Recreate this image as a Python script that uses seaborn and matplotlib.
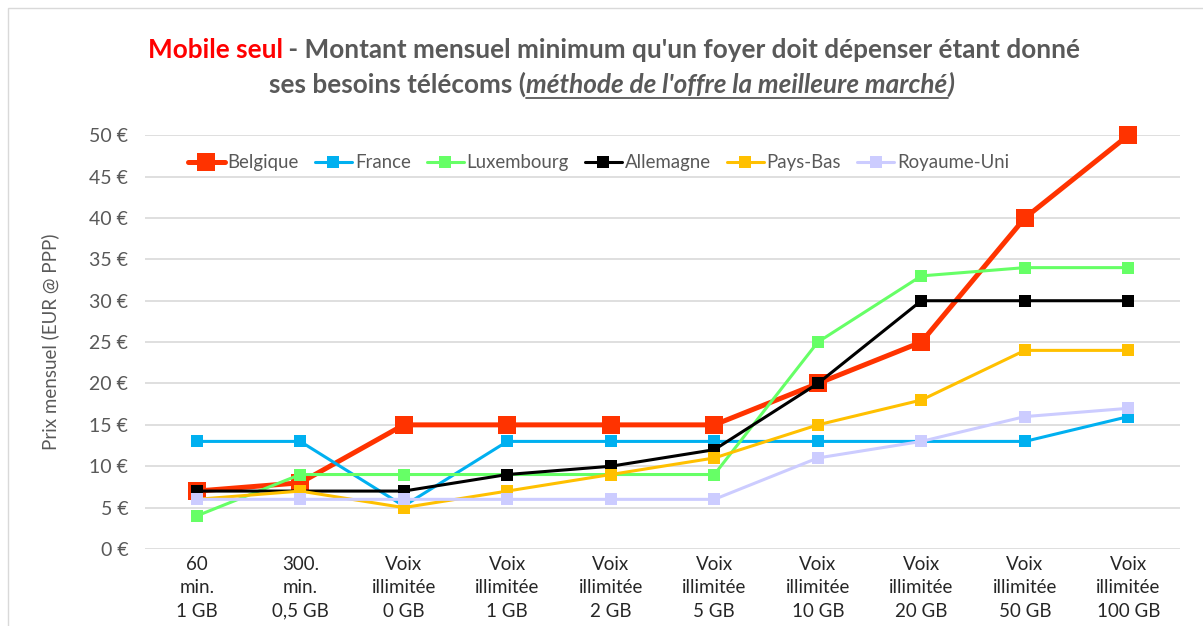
import numpy as np
import pandas as pd
import matplotlib
matplotlib.use("Agg")
import matplotlib.pyplot as plt
import seaborn as sns

# categories (x axis) and values
categories = ["60\nmin.\n1 GB", "300.\nmin.\n0,5 GB", "Voix\nillimitée\n0 GB",
              "Voix\nillimitée\n1 GB", "Voix\nillimitée\n2 GB", "Voix\nillimitée\n5 GB",
              "Voix\nillimitée\n10 GB", "Voix\nillimitée\n20 GB", "Voix\nillimitée\n50 GB",
              "Voix\nillimitée\n100 GB"]
belgique = [7, 8, 15, 15, 15, 15, 20, 25, 40, 50]
france = [13, 13, 5.2, 13, 13, 13, 13, 13, 13, 16]
luxembourg = [4, 9, 9, 9, 9, 9, 25, 33, 34, 34]
allemagne = [7, 7, 7, 9, 10, 12, 20, 30, 30, 30]
pays_bas = [6, 7, 5, 7, 9, 11, 15, 18, 24, 24]
royaume_uni = [6, 6, 6, 6, 6, 6, 11, 13, 16, 17]
yticks = [0, 5, 10, 15, 20, 25, 30, 35, 40, 45, 50]

series = [("Belgique", belgique, "#ff3300", 3.6, 12.5),
          ("France", france, "#00b0f0", 2.2, 8),
          ("Luxembourg", luxembourg, "#66ff66", 2.2, 8),
          ("Allemagne", allemagne, "#000000", 2.2, 8),
          ("Pays-Bas", pays_bas, "#ffc000", 2.2, 8),
          ("Royaume-Uni", royaume_uni, "#ccccff", 2.2, 8)]

sns.set_theme(style="white")
plt.rcParams['font.family'] = ['Lato', 'DejaVu Sans']
grey = "#595959"

fig = plt.figure(figsize=(12.03, 6.26), dpi=100)
ax = fig.add_axes([0.1205, 0.123, 0.8605, 0.661])

x = np.arange(len(categories))
for name, vals, col, lw, ms in series:
    df = pd.DataFrame({"x": x, "y": vals})
    sns.lineplot(data=df, x="x", y="y", ax=ax, color=col, linewidth=lw,
                 marker="s", markersize=ms, markeredgewidth=0, label=name,
                 sort=False, clip_on=False)

ax.set_xlim(-0.5, len(categories) - 0.5)
ax.set_ylim(0, 50)
ax.set_yticks(yticks)
ax.set_yticklabels([f"{v} €" for v in yticks], color=grey, fontsize=14)
ax.set_xticks(x)
ax.set_xticklabels(categories, fontsize=13.5, color="#262626", linespacing=1.45)
ax.tick_params(axis="y", length=0, pad=12)
ax.tick_params(axis="x", length=0, pad=5)
ax.grid(axis="y", color="#d9d9d9", linewidth=1.2)
ax.set_axisbelow(True)
for s in ax.spines.values():
    s.set_visible(False)
ax.set_xlabel("")
ax.set_ylabel("Prix mensuel (EUR @ PPP)", color=grey, fontsize=13.5, labelpad=22)

leg = ax.legend(loc="upper left", bbox_to_anchor=(0.025, 0.995), ncol=6, frameon=False,
                fontsize=13.4, handlelength=2.0, columnspacing=0.85, handletextpad=0.15)
for t in leg.get_texts():
    t.set_color(grey)

# frame of the chart area
fig.patches.append(plt.Rectangle((0.007, -0.1), 1.2, 1.087, transform=fig.transFigure,
                                 fill=False, edgecolor="#d9d9d9", linewidth=1))

# title built from pieces
fig.canvas.draw()
r = fig.canvas.get_renderer()
W, H = fig.bbox.width, fig.bbox.height
tsize = 18.8

def line(pieces, ypix, center):
    texts = []
    for s, col, style in pieces:
        t = fig.text(0, 1 - ypix / H, s, color=col, fontsize=tsize, fontweight="bold",
                     style=style, va="baseline", ha="left")
        texts.append(t)
    widths = [t.get_window_extent(r).width for t in texts]
    xs = center - sum(widths) / 2
    out = []
    for t, w in zip(texts, widths):
        t.set_x(xs / W)
        out.append((xs, w))
        xs += w
    return texts, out

line([("Mobile seul", "#ff0000", "normal"),
      (" - Montant mensuel minimum qu'un foyer doit dépenser étant donné", grey, "normal")],
     58, 614)
texts, pos = line([("ses besoins télécoms (", grey, "normal"),
                   ("méthode de l'offre la meilleure marché", grey, "italic"),
                   (")", grey, "italic")], 93, 612)
x0, w = pos[1]
fig.add_artist(plt.Line2D([x0 / W, (x0 + w) / W], [1 - 98 / H, 1 - 98 / H],
                          color=grey, linewidth=1.3, transform=fig.transFigure))

fig.savefig("out.png", dpi=100)
